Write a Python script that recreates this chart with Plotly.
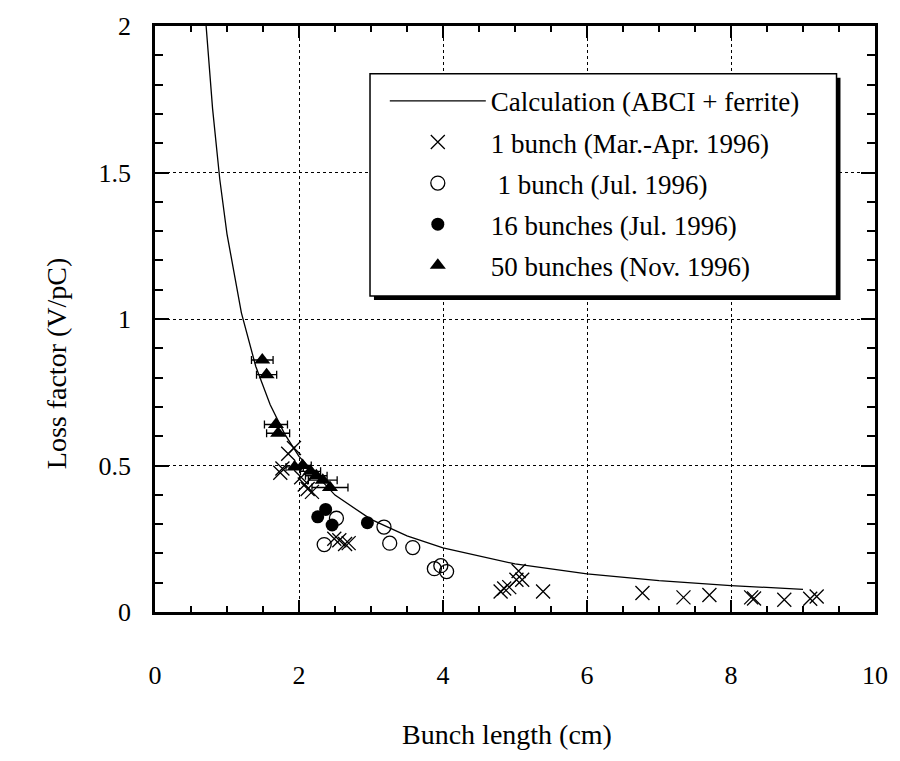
import plotly.graph_objects as go

# Calculated loss factor vs. bunch length (ABCI + ferrite)
calc_x = [0.71, 0.8, 0.9, 1.0, 1.2, 1.4, 1.6, 1.8, 2.0, 2.5, 3.0, 3.5, 4.0, 5.0, 6.0, 7.0, 8.0, 9.0]
calc_y = [2.0, 1.717, 1.476, 1.29, 1.021, 0.838, 0.707, 0.608, 0.531, 0.399, 0.316, 0.26, 0.219, 0.164, 0.13, 0.107, 0.09, 0.0775]

# 1 bunch, Mar.-Apr. 1996
mar_x = [1.74, 1.77, 1.85, 1.93, 2.03, 2.08, 2.12, 2.18, 2.49, 2.56, 2.64, 2.69,
         4.80, 4.85, 4.92, 5.02, 5.05, 5.10, 5.39, 6.77, 7.34, 7.70, 8.28, 8.32, 8.74, 9.10, 9.19]
mar_y = [0.475, 0.49, 0.54, 0.56, 0.46, 0.435, 0.42, 0.41, 0.25, 0.245, 0.232, 0.235,
         0.07, 0.08, 0.085, 0.11, 0.14, 0.11, 0.07, 0.065, 0.05, 0.058, 0.05, 0.046, 0.042, 0.045, 0.053]

# 1 bunch, Jul. 1996
jul_x = [2.35, 2.52, 3.18, 3.26, 3.58, 3.88, 3.97, 4.05]
jul_y = [0.23, 0.32, 0.29, 0.235, 0.22, 0.148, 0.158, 0.138]

# 16 bunches, Jul. 1996
b16_x = [2.26, 2.37, 2.46, 2.95]
b16_y = [0.325, 0.35, 0.297, 0.305]

# 50 bunches, Nov. 1996 (with bunch-length error)
b50_x = [1.49, 1.55, 1.68, 1.71, 1.94, 2.05, 2.16, 2.24, 2.33, 2.43]
b50_y = [0.86, 0.81, 0.64, 0.61, 0.495, 0.50, 0.48, 0.465, 0.45, 0.425]
b50_err = [0.15, 0.14, 0.16, 0.16, 0.12, 0.12, 0.14, 0.15, 0.2, 0.25]

x_ticks = [0, 2, 4, 6, 8, 10]
y_ticks = [0, 0.5, 1, 1.5, 2]
y_tick_text = ["0", "0.5", "1", "1.5", "2"]

FONT = "Liberation Serif"

fig = go.Figure()
fig.add_trace(go.Scatter(x=calc_x, y=calc_y, mode="lines", name="Calculation (ABCI + ferrite)",
                         line=dict(color="black", width=1.3), legendgroup="a"))
fig.add_trace(go.Scatter(x=mar_x, y=mar_y, mode="markers", name="1 bunch (Mar.-Apr. 1996)",
                         marker=dict(symbol="x-thin-open", size=14, color="black",
                                     line=dict(color="black", width=1.3)), legendgroup="b"))
fig.add_trace(go.Scatter(x=jul_x, y=jul_y, mode="markers", name=" 1 bunch (Jul. 1996)",
                         marker=dict(symbol="circle-open", size=14, color="black",
                                     line=dict(color="black", width=1.3)), legendgroup="c"))
fig.add_trace(go.Scatter(x=b16_x, y=b16_y, mode="markers", name="16 bunches (Jul. 1996)",
                         marker=dict(symbol="circle", size=13, color="black"), legendgroup="d"))
fig.add_trace(go.Scatter(x=b50_x, y=b50_y, mode="markers", name="50 bunches (Nov. 1996)",
                         marker=dict(symbol="triangle-up", size=14, color="black"),
                         error_x=dict(type="data", array=b50_err, color="black", thickness=1.3, width=4),
                         legendgroup="e"))

# Legend frame with drop shadow
px2x = lambda p: (p - 155) / 730
py2y = lambda p: (612 - p) / 588
fig.add_shape(type="rect", xref="paper", yref="paper", layer="above",
              x0=px2x(377), x1=px2x(850), y0=py2y(299), y1=py2y(76),
              fillcolor="black", line=dict(width=0))
fig.add_shape(type="rect", xref="paper", yref="paper", layer="above",
              x0=px2x(373), x1=px2x(846), y0=py2y(295), y1=py2y(72),
              fillcolor="white", line=dict(color="black", width=1.5))

fig.add_annotation(text="Bunch length (cm)", xref="paper", yref="paper",
                   x=px2x(512), y=py2y(735), xanchor="center", yanchor="middle",
                   showarrow=False, font=dict(family=FONT, size=28, color="black"))
fig.add_annotation(text="Loss factor (V/pC)", xref="paper", yref="paper", textangle=-90,
                   x=px2x(55), y=py2y(362), xanchor="center", yanchor="middle",
                   showarrow=False, font=dict(family=FONT, size=28, color="black"))

axis_common = dict(showline=True, linecolor="black", linewidth=2.5, mirror="allticks",
                   ticks="inside", tickcolor="black", tickwidth=2, showgrid=True,
                   gridcolor="black", gridwidth=1, griddash="dot", zeroline=False,
                   tickfont=dict(family=FONT, size=26, color="black"))

fig.update_xaxes(range=[0, 10], tickvals=x_ticks, ticklen=12, ticklabelstandoff=38,
                 minor=dict(dtick=0.5, ticklen=6, tickwidth=1.5, tickcolor="black", ticks="inside", showgrid=False),
                 **axis_common)
fig.update_yaxes(range=[0, 2], tickvals=y_ticks, ticktext=y_tick_text, ticklen=14, ticklabelstandoff=16,
                 minor=dict(dtick=0.1, ticklen=8, tickwidth=1.5, tickcolor="black", ticks="inside", showgrid=False),
                 **axis_common)

fig.update_layout(width=900, height=761, margin=dict(l=155, r=15, t=24, b=149),
                  plot_bgcolor="white", paper_bgcolor="white",
                  font=dict(family=FONT, size=27, color="black"),
                  legend=dict(x=px2x(388), y=py2y(75), xanchor="left", yanchor="top",
                              bgcolor="rgba(0,0,0,0)", borderwidth=0, itemwidth=96,
                              traceorder="grouped", tracegroupgap=3,
                              font=dict(family=FONT, size=27, color="black")))

fig.write_html("out.html")
